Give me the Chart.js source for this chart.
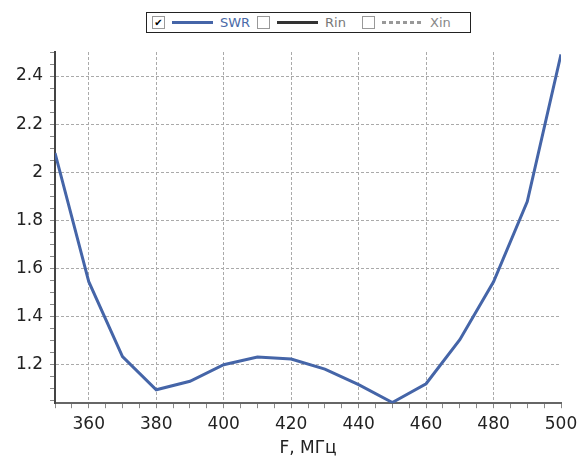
<!DOCTYPE html>
<html>
<head>
<meta charset="utf-8">
<script src="https://cdn.jsdelivr.net/npm/chart.js@4"></script>
<style>
  body { margin: 0; background: #fff; overflow: hidden; }
  #wrap { position: relative; width: 578px; height: 456px; overflow: hidden; }
  #legend {
    position: absolute; left: 146px; top: 12px; width: 318px; height: 19px;
    border: 1px solid #222; background: #fff; display: flex; align-items: center;
    font: 13px "DejaVu Sans", sans-serif; padding-left: 5px; box-sizing: content-box;
  }
  .item { display: flex; align-items: center; width: 105px; }
  .box {
    width: 11px; height: 11px; border: 1px solid #999; background: #fff;
    font-size: 10px; line-height: 11px; text-align: center; color: #000;
  }
  .swatch { width: 41px; height: 3px; margin: 0 7px; }
</style>
</head>
<body>
<div id="wrap">
  <canvas id="lineChart" width="578" height="459"></canvas>
  <div id="legend"></div>
</div>
<script>
const freqs = [350, 360, 370, 380, 390, 400, 410, 420, 430, 440, 450, 460, 470, 480, 490, 500];
const swr = [2.08, 1.545, 1.234, 1.096, 1.131, 1.2, 1.232, 1.224, 1.182, 1.117, 1.043, 1.121, 1.304, 1.545, 1.878, 2.49];
const xLabels = [360, 380, 400, 420, 440, 460, 480, 500];
const yLabels = [1.2, 1.4, 1.6, 1.8, 2, 2.2, 2.4];
const seriesNames = ["SWR", "Rin", "Xin"];

// legend like the original widget: checkbox + line sample + name
const legendStyles = [
  { checked: true, swatch: "#4565a8", text: "#4a6aa8" },
  { checked: false, swatch: "#333", text: "#777" },
  { checked: false, swatch: "repeating-linear-gradient(90deg,#999 0 4px,transparent 4px 7px)", text: "#888" }
];
const legend = document.getElementById("legend");
seriesNames.forEach(function (name, i) {
  const st = legendStyles[i];
  const item = document.createElement("div");
  item.className = "item";
  item.innerHTML = '<div class="box">' + (st.checked ? "\u2714" : "") + '</div>' +
    '<div class="swatch" style="background:' + st.swatch + '"></div>' +
    '<span style="color:' + st.text + '">' + name + '</span>';
  legend.appendChild(item);
});

const isMajorX = v => xLabels.indexOf(v) >= 0;
const isMajorY = v => yLabels.some(l => Math.abs(l - v) < 1e-6);
const tickFont = { family: "DejaVu Sans", size: 17 };

new Chart(document.getElementById("lineChart"), {
  type: 'line',
  data: {
    datasets: [{
      label: seriesNames[0],
      data: freqs.map((f, i) => ({ x: f, y: swr[i] })),
      borderColor: "#4565a8",
      borderWidth: 3,
      pointRadius: 0,
      tension: 0,
      fill: false
    }]
  },
  options: {
    responsive: false,
    animation: false,
    layout: { padding: { top: 52, left: 9, right: 12, bottom: 0 } },
    plugins: { legend: { display: false }, tooltip: { enabled: false } },
    scales: {
      x: {
        type: 'linear',
        min: 350,
        max: 500,
        // let the "500" label run closer to the edge, like the original
        afterFit: scale => { scale.paddingRight = 17; },
        ticks: {
          stepSize: 5,
          autoSkip: false,
          maxRotation: 0,
          padding: 6,
          color: "#222",
          font: tickFont,
          callback: v => isMajorX(v) ? String(v) : ''
        },
        grid: {
          color: ctx => (ctx.tick && isMajorX(ctx.tick.value) && ctx.tick.value < 500) ? "#aaa" : "rgba(0,0,0,0)",
          tickColor: "#888",
          tickLength: 5,
          tickBorderDash: []
        },
        border: { color: "#666", width: 2, dash: [3, 2] },
        title: { display: true, text: "F, МГц", color: "#222", font: tickFont, padding: { top: -2, bottom: 0 } }
      },
      y: {
        min: 1.04,
        max: 2.5,
        ticks: {
          stepSize: 0.05,
          includeBounds: false,
          autoSkip: false,
          padding: 7,
          color: "#222",
          font: tickFont,
          callback: v => isMajorY(v) ? String(Math.round(v * 10) / 10) : ''
        },
        grid: {
          color: ctx => (ctx.tick && isMajorY(ctx.tick.value)) ? "#aaa" : "rgba(0,0,0,0)",
          tickColor: "#888",
          tickLength: 5,
          tickBorderDash: []
        },
        border: { color: "#444", width: 2, dash: [3, 2] }
      }
    }
  }
});
</script>
</body>
</html>
